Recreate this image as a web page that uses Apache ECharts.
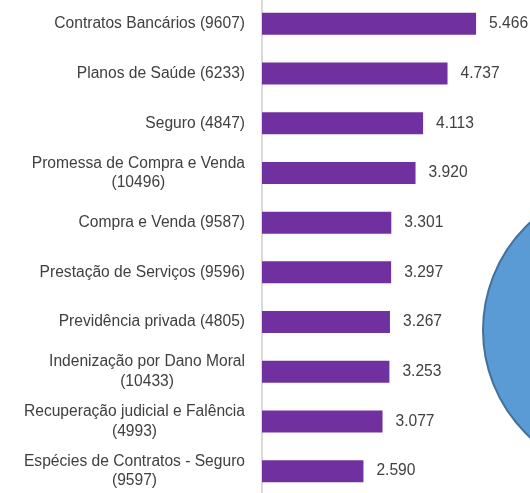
<!DOCTYPE html>
<html>
<head>
<meta charset="utf-8">
<script src="https://cdn.jsdelivr.net/npm/echarts@6/dist/echarts.min.js"></script>
<style>
html,body{margin:0;padding:0;background:#fff;}
#chart{width:530px;height:493px;}
</style>
</head>
<body>
<div id="chart"></div>
<script>
const categories = [
  "Contratos Bancários",
  "Planos de Saúde",
  "Seguro",
  "Promessa de Compra e Venda",
  "Compra e Venda",
  "Prestação de Serviços",
  "Previdência privada",
  "Indenização por Dano Moral",
  "Recuperação judicial e Falência",
  "Espécies de Contratos - Seguro"
];
const codes = ["9607", "6233", "4847", "10496", "9587", "9596", "4805", "10433", "4993", "9597"];
const twoLine = [false, false, false, true, false, false, false, true, true, true];
const values = [5466, 4737, 4113, 3920, 3301, 3297, 3267, 3253, 3077, 2590];

const FONT = "'Liberation Sans', Arial, sans-serif";
const FS = 15.6;
const labels = categories.map((c, i) => c + (twoLine[i] ? "\n" : " ") + "(" + codes[i] + ")");

function fmt(v) {
  return String(v).replace(/\B(?=(\d{3})+(?!\d))/g, ".");
}

const chart = echarts.init(document.getElementById('chart'), null, {renderer: 'canvas'});
chart.setOption({
  animation: false,
  backgroundColor: '#ffffff',
  grid: {left: 262, right: 33, top: -1, bottom: -3, containLabel: false, outerBoundsMode: 'none'},
  xAxis: {
    type: 'value', min: 0, max: 6000,
    axisLine: {show: false}, axisTick: {show: false},
    axisLabel: {show: false}, splitLine: {show: false}
  },
  yAxis: {
    type: 'category', data: labels, inverse: true,
    axisLine: {show: true, lineStyle: {color: '#D9D9D9', width: 2}},
    axisTick: {show: false},
    axisLabel: {
      margin: 17, align: 'right',
      color: '#404040', fontFamily: FONT, fontSize: FS, lineHeight: 19.5,
      formatter: v => v.split("\n").map(s => "{c|" + s + "}").join("\n"),
      rich: {c: {align: 'center', color: '#404040', fontFamily: FONT, fontSize: FS, lineHeight: 19.5}}
    }
  },
  series: [{
    type: 'bar', data: values, barWidth: 22,
    itemStyle: {color: '#7030A0'},
    label: {
      show: true, position: 'right', distance: 13,
      color: '#404040', fontFamily: FONT, fontSize: FS,
      formatter: p => fmt(p.value)
    }
  }],
  graphic: [{
    type: 'circle',
    shape: {cx: 629, cy: 330, r: 146},
    style: {fill: '#5B9BD5', stroke: '#41719C', lineWidth: 2}
  }]
});
</script>
</body>
</html>
